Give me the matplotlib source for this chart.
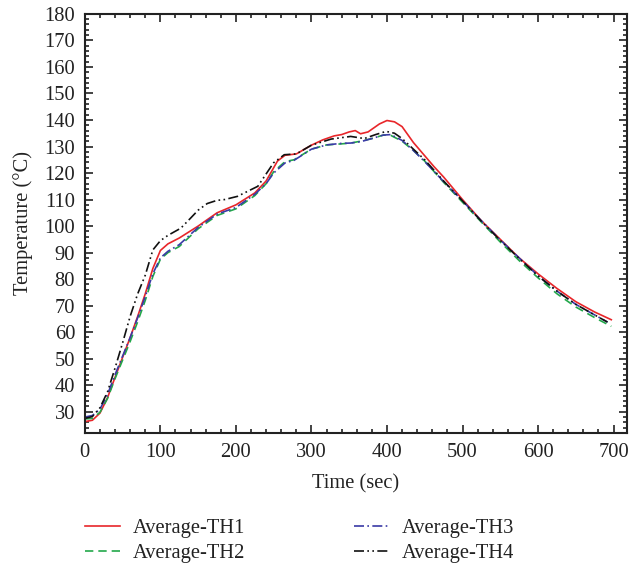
import matplotlib
matplotlib.use("Agg")
import matplotlib.pyplot as plt
from matplotlib.ticker import MultipleLocator

plt.rcParams['font.family'] = ['Liberation Serif', 'DejaVu Serif']
plt.rcParams['mathtext.fontset'] = 'stix'

# ---- data ----
t1 = [0, 10, 20, 30, 40, 50, 60, 70, 80, 90, 100, 110, 125, 150, 175, 200, 225, 240, 255, 265,
      280, 300, 315, 330, 340, 350, 358, 365, 375, 390, 400, 410, 420, 435, 450, 462, 475, 500,
      525, 550, 575, 600, 625, 650, 675, 697]
th1 = [26.3, 26.8, 29.5, 35.3, 43.0, 50.5, 58.0, 66.0, 74.5, 84.0, 90.8, 93.3, 95.5, 100.0, 105.0,
       108.0, 112.5, 117.0, 124.5, 126.7, 127.2, 130.5, 132.5, 134.0, 134.5, 135.5, 136.0, 134.8,
       135.5, 138.5, 139.8, 139.3, 137.5, 131.5, 126.5, 122.5, 118.5, 110.0, 102.0, 95.0, 88.0,
       82.0, 76.5, 71.5, 67.6, 64.7]

t2 = [0, 10, 20, 30, 40, 50, 60, 70, 80, 90, 100, 110, 125, 150, 175, 200, 225, 240, 250, 265,
      277, 300, 320, 340, 352, 365, 380, 395, 405, 420, 435, 450, 475, 500, 525, 550, 575, 600,
      625, 650, 675, 697]
th2 = [27.3, 27.5, 29.8, 35.0, 42.5, 49.5, 56.5, 64.0, 72.0, 81.0, 87.5, 90.0, 92.3, 99.0, 104.0,
       106.5, 111.5, 116.0, 120.5, 124.3, 125.0, 129.0, 130.6, 131.0, 131.3, 132.0, 133.0, 134.3,
       134.2, 132.0, 128.5, 124.5, 116.5, 109.0, 101.5, 94.0, 87.0, 80.5, 74.5, 69.5, 65.5, 62.2]

t3 = [0, 10, 20, 30, 40, 50, 60, 70, 80, 90, 100, 110, 125, 150, 175, 200, 225, 240, 250, 265,
      277, 300, 320, 340, 352, 365, 380, 395, 405, 420, 435, 450, 475, 500, 525, 550, 575, 600,
      625, 650, 675, 692]
th3 = [28.0, 28.6, 31.0, 36.5, 44.0, 51.0, 58.0, 65.5, 73.5, 82.0, 88.0, 90.5, 93.0, 99.5, 104.5,
       107.0, 112.0, 116.0, 120.0, 123.8, 124.8, 129.0, 130.6, 131.2, 131.3, 131.8, 133.0, 134.3,
       134.5, 132.3, 128.5, 124.3, 116.8, 109.5, 102.0, 94.8, 88.0, 81.3, 75.5, 70.5, 66.5, 63.8]

t4 = [0, 10, 20, 30, 40, 50, 60, 70, 80, 90, 100, 110, 127, 140, 150, 162, 175, 185, 202, 229,
      250, 264, 280, 300, 326, 352, 370, 385, 399, 410, 420, 450, 475, 500, 525, 550, 575, 600,
      625, 650, 675, 692]
th4 = [27.5, 28.2, 31.5, 37.5, 46.5, 56.0, 66.0, 74.5, 81.5, 91.0, 94.5, 96.5, 99.2, 103.0, 106.0,
       108.5, 109.7, 110.0, 111.2, 115.0, 123.9, 126.9, 127.2, 130.5, 132.8, 133.8, 133.0, 134.5,
       135.7, 135.0, 133.0, 125.0, 117.0, 109.5, 101.8, 94.6, 87.8, 81.2, 75.5, 70.5, 66.5, 63.8]

labels = ['Average-TH1', 'Average-TH2', 'Average-TH3', 'Average-TH4']

FS = 14.8
fig = plt.figure(figsize=(6.38, 5.71), dpi=100)
ax = fig.add_axes([0.133, 0.2417, 0.85, 0.734])

ax.plot(t1, th1, color='#e8262a', lw=1.2, ls='-', label=labels[0])
ax.plot(t2, th2, color='#22a84a', lw=1.2, ls=(0, (5, 3)), label=labels[1])
ax.plot(t3, th3, color='#3a3aa6', lw=1.2, ls=(0, (6, 2, 1, 2)), label=labels[2])
ax.plot(t4, th4, color='#111111', lw=1.2, ls=(0, (6, 2, 1, 2, 1, 2)), label=labels[3])

ax.set_xlim(0, 718)
ax.set_ylim(22, 180)
ax.xaxis.set_major_locator(MultipleLocator(100))
ax.xaxis.set_minor_locator(MultipleLocator(20))
ax.set_yticks(range(30, 181, 10))
ax.yaxis.set_minor_locator(MultipleLocator(2))
ax.tick_params(which='both', direction='in', top=True, right=True, labelsize=FS,
               colors='#222222', width=1.2)
ax.tick_params(which='major', length=6, pad=7)
ax.tick_params(which='minor', length=3)
for s in ax.spines.values():
    s.set_linewidth(1.5)
    s.set_color('#222222')

ax.set_xlabel('Time (sec)', fontsize=FS, color='#222222', labelpad=9)
ax.set_ylabel('Temperature (°C)', fontsize=FS, color='#222222', labelpad=8)

fig.legend(loc='center left', bbox_to_anchor=(0.133, 0.0525), ncol=2, frameon=False,
           fontsize=FS, handlelength=1.7, columnspacing=5.3, labelspacing=0.3,
           handletextpad=0.62, labelcolor='#222222', borderpad=0, borderaxespad=0)

fig.savefig('out.png', dpi=100)
